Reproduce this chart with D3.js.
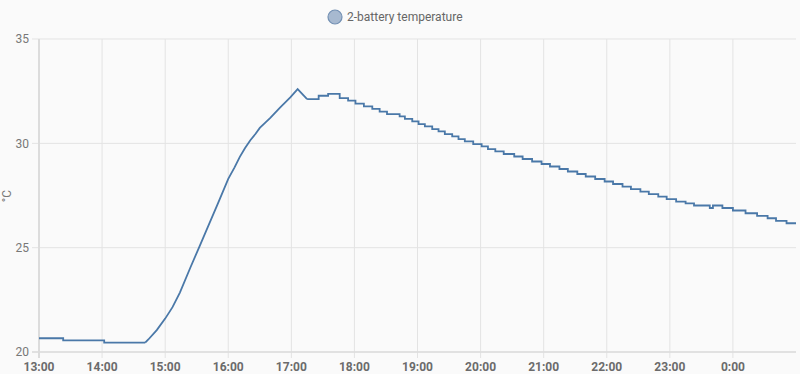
<!DOCTYPE html>
<html>
<head>
<meta charset="utf-8">
<script src="https://cdn.jsdelivr.net/npm/d3@7/dist/d3.min.js"></script>
<style>
  html, body { margin: 0; padding: 0; background: #fafafa; }
  svg { display: block; font-family: Roboto, "Noto Sans", sans-serif; }
</style>
</head>
<body>
<svg id="chart" width="800" height="374"></svg>
<script>
// ---- data ----
const seriesName = "2-battery temperature";
const yUnit = "°C";
const yTicks = [20, 25, 30, 35];
const xTickLabels = ["13:00","14:00","15:00","16:00","17:00","18:00","19:00","20:00","21:00","22:00","23:00","0:00"];
const xStart = "13:00", xEnd = "1:00";

// early flat part (stepped readings)
const flatTimes = ["13:00","13:23","14:02","14:41"];
const flatTemps = [20.66, 20.56, 20.45, 20.45];

// rising part (fine-grained readings)
const riseTimes = ["14:41","14:44","14:52","15:00","15:07","15:14","15:24","15:33","15:39","15:50","16:00","16:06","16:11","16:16","16:21","16:26","16:30","16:35","16:40","16:49","16:59","17:06","17:15"];
const riseTemps = [20.45, 20.6, 21.05, 21.6, 22.15, 22.85, 24.05, 25.1, 25.8, 27.1, 28.3, 28.85, 29.35, 29.78, 30.15, 30.46, 30.74, 30.98, 31.22, 31.7, 32.2, 32.6, 32.12];

// cooling part (stepped readings)
const coolTimes = ["17:15","17:26","17:35","17:46","17:54","18:01","18:09","18:17","18:24","18:31","18:43","18:48","18:55",
  "19:01","19:07","19:14","19:20","19:26","19:33","19:39","19:45","19:53","20:01","20:07","20:14","20:22","20:32","20:40","20:49","20:58",
  "21:06","21:15","21:23","21:32","21:40","21:49","21:58","22:06","22:15","22:23","22:32","22:40","22:49","22:57",
  "23:06","23:15","23:23","23:38","23:41","23:50","0:00","0:12","0:23","0:33","0:41","0:51","1:00"];
const coolTemps = [32.12, 32.28, 32.37, 32.17, 32.05, 31.9, 31.77, 31.65, 31.52, 31.40, 31.29, 31.17, 31.05,
  30.92, 30.81, 30.68, 30.57, 30.44, 30.33, 30.20, 30.09, 29.96, 29.85, 29.72, 29.61, 29.49, 29.37, 29.25, 29.13, 29.01,
  28.89, 28.77, 28.65, 28.53, 28.41, 28.29, 28.17, 28.05, 27.93, 27.81, 27.69, 27.57, 27.45, 27.33,
  27.21, 27.12, 27.02, 26.90, 27.02, 26.90, 26.78, 26.65, 26.52, 26.41, 26.28, 26.17, 26.17];

// ---- helpers ----
function toDate(s) {
  const [h, m] = s.split(":").map(Number);
  const day = h < 13 ? 2 : 1;
  return new Date(2024, 0, day, h, m);
}
function pairs(ts, vs) { return ts.map((t, i) => ({ t: toDate(t), v: vs[i] })); }

const margin = { left: 39 };
const svg = d3.select("#chart");

const x = d3.scaleTime().domain([toDate(xStart), toDate(xEnd)]).range([margin.left, 796]);
const y = d3.scaleLinear().domain([20, 35]).range([352, 39]);

// grid
const grid = svg.append("g");
grid.selectAll("line.h").data(yTicks).join("line")
  .attr("x1", margin.left - 7).attr("x2", 796)
  .attr("y1", d => y(d)).attr("y2", d => y(d))
  .attr("stroke", "#e3e3e3").attr("stroke-width", 1);
grid.selectAll("line.v").data(xTickLabels).join("line")
  .attr("x1", d => x(toDate(d))).attr("x2", d => x(toDate(d)))
  .attr("y1", 39).attr("y2", 358)
  .attr("stroke", "#e3e3e3").attr("stroke-width", 1);

// axis lines
svg.append("line").attr("x1", margin.left).attr("x2", margin.left).attr("y1", 39).attr("y2", 358)
  .attr("stroke", "#dcdcdc").attr("stroke-width", 2);
svg.append("line").attr("x1", margin.left - 7).attr("x2", 796).attr("y1", y(20)).attr("y2", y(20))
  .attr("stroke", "#dcdcdc").attr("stroke-width", 1.5);

// y labels
svg.selectAll("text.yl").data(yTicks).join("text")
  .attr("x", 29).attr("y", d => y(d)).attr("dy", "0.35em")
  .attr("text-anchor", "end").attr("font-size", 12).attr("fill", "#777")
  .text(d => d);

// x labels
svg.selectAll("text.xl").data(xTickLabels).join("text")
  .attr("x", d => x(toDate(d))).attr("y", 371)
  .attr("text-anchor", "middle").attr("font-size", 12).attr("font-weight", "bold").attr("fill", "#6b6b6b")
  .text(d => d);

// y unit
svg.append("text").attr("transform", "translate(11,196) rotate(-90)")
  .attr("text-anchor", "middle").attr("font-size", 12).attr("fill", "#777").text(yUnit);

// lines
const stepLine = d3.line().x(d => x(d.t)).y(d => y(d.v)).curve(d3.curveStepAfter);
const riseLine = d3.line().x(d => x(d.t)).y(d => y(d.v)).curve(d3.curveLinear);
const color = "#4a78a8";
[ [flatTimes, flatTemps, stepLine], [riseTimes, riseTemps, riseLine], [coolTimes, coolTemps, stepLine] ]
  .forEach(([ts, vs, gen]) => {
    svg.append("path").datum(pairs(ts, vs)).attr("d", gen)
      .attr("fill", "none").attr("stroke", color).attr("stroke-width", 1.8)
      .attr("stroke-linejoin", "miter");
  });

// legend
svg.append("circle").attr("cx", 335).attr("cy", 17).attr("r", 7)
  .attr("fill", "#a7b9d0").attr("stroke", "#7390b3").attr("stroke-width", 1.2);
svg.append("text").attr("x", 347).attr("y", 17).attr("dy", "0.35em")
  .attr("font-size", 12).attr("fill", "#666").text(seriesName);
</script>
</body>
</html>
